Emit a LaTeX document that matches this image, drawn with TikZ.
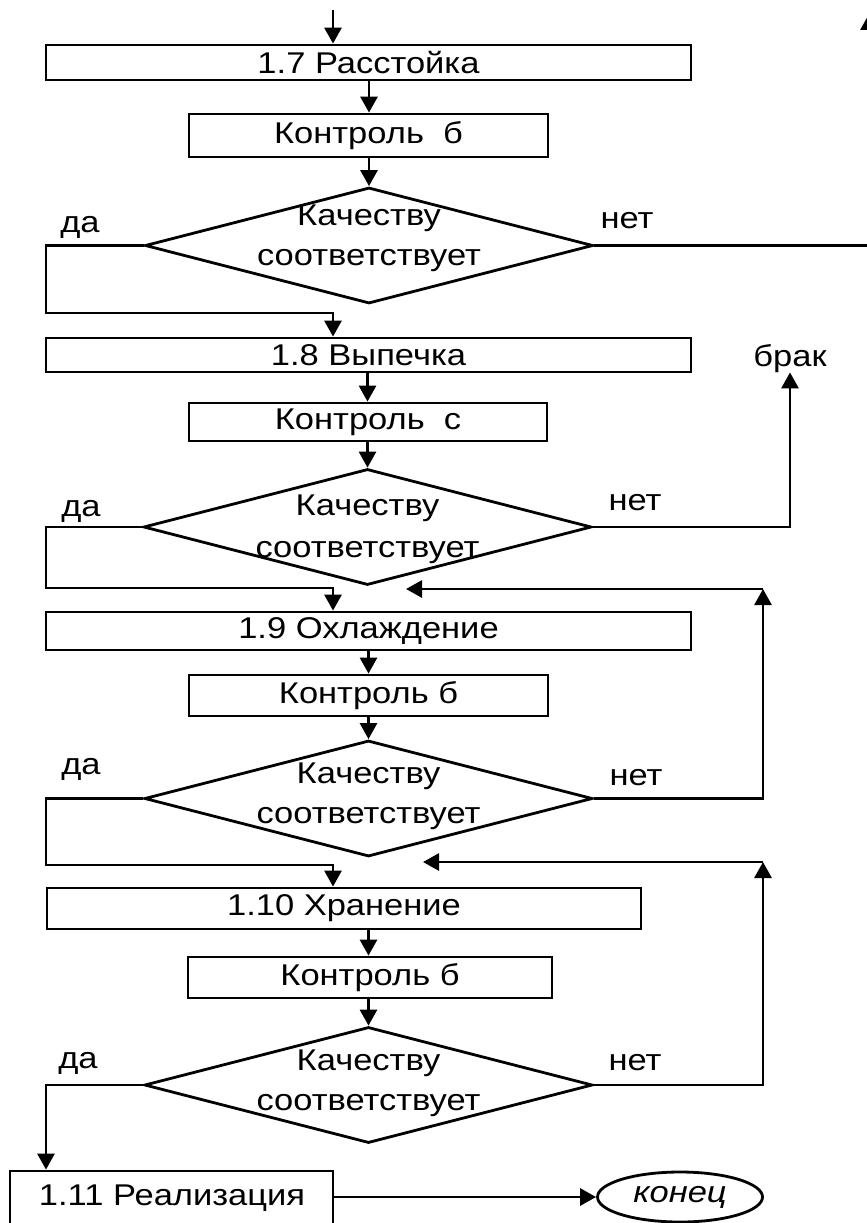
\documentclass[tikz,border=0pt]{standalone}
\usepackage{fontspec}
\setmainfont{Liberation Sans}[FakeStretch=1.15]
\usetikzlibrary{arrows.meta,shapes.geometric}
\begin{document}
\begin{tikzpicture}[x=1pt,y=-1pt,
  every node/.style={font=\fontsize{30}{36}\selectfont},
  line/.style={line width=2.8pt},
  arr/.style={line width=2.8pt,-{Triangle[length=16pt,width=17pt]}},
  stepbox/.style={draw,line width=2.8pt,rectangle,inner sep=0pt},
  decision/.style={draw,line width=2.8pt,diamond,inner sep=0pt,
                   minimum width=448pt,minimum height=116pt},
  lbl/.style={anchor=base,inner sep=0pt}
]
\useasboundingbox (0,0) rectangle (867,1223);

% process steps
\node[stepbox,minimum width=645pt,minimum height=35pt] (b1) at (368.5,62.5) {1.7 Расстойка};
\node[stepbox,minimum width=359pt,minimum height=43pt] (b2) at (368.5,135.5) {Контроль\ \ б};
\node[decision] (d1) at (369,245.5) {};
\node[stepbox,minimum width=645pt,minimum height=34pt] (b3) at (368.5,355) {1.8 Выпечка};
\node[stepbox,minimum width=358pt,minimum height=38pt] (b4) at (368,422) {Контроль\ \ с};
\node[decision] (d2) at (367.5,527) {};
\node[stepbox,minimum width=645pt,minimum height=38pt] (b5) at (368.5,631) {1.9 Охлаждение};
\node[stepbox,minimum width=359pt,minimum height=41pt] (b6) at (368.5,695.5) {Контроль б};
\node[decision] (d3) at (368.5,798.5) {};
\node[stepbox,minimum width=594pt,minimum height=41pt] (b7) at (344,908.5) {1.10 Хранение};
\node[stepbox,minimum width=364pt,minimum height=41pt] (b8) at (370,977.5) {Контроль б};
\node[decision] (d4) at (368.5,1085) {};
\node[stepbox,minimum width=323pt,minimum height=61pt] (b9) at (171.5,1201.5) {};
\node[inner sep=0pt] (b9t) at (172,1198) {1.11 Реализация};
\node[draw,line width=2.8pt,ellipse,inner sep=0pt,minimum width=165pt,minimum height=50pt,
      font=\fontsize{30}{36}\selectfont\itshape] (end) at (680,1197) {конец};

% decision texts
\node[lbl] (q1a) at (369,225) {Качеству};
\node[lbl] (q1b) at (369,265) {соответствует};
\node[lbl] (q2a) at (367.5,515) {Качеству};
\node[lbl] (q2b) at (367.5,557) {соответствует};
\node[lbl] (q3a) at (368.5,783) {Качеству};
\node[lbl] (q3b) at (368.5,823) {соответствует};
\node[lbl] (q4a) at (368.5,1070) {Качеству};
\node[lbl] (q4b) at (368.5,1110) {соответствует};

% yes / no labels
\node[lbl] (y1l) at (80,232) {да};
\node[lbl] (n1l) at (627,228) {нет};
\node[lbl] (y2l) at (81,516) {да};
\node[lbl] (n2l) at (635,510) {нет};
\node[lbl] (y3l) at (81,774) {да};
\node[lbl] (n3l) at (636,785) {нет};
\node[lbl] (y4l) at (78,1068) {да};
\node[lbl] (n4l) at (635,1070) {нет};
\node[lbl] (brak) at (790,366) {брак};

% helper points
\coordinate (in) at (333,10);
\coordinate (lft) at (46,0);
\coordinate (y1) at (46,313);
\coordinate (y2) at (46,588);
\coordinate (y3) at (46,865);
\coordinate (up1) at (869,14);
\coordinate (r1) at (763,589);
\coordinate (r1tip) at (406,589);
\coordinate (r2) at (763,862);
\coordinate (r2tip) at (423,862);

% main flow
\draw[arr] (in) -- (in |- b1.north);
\draw[arr] (b1.south -| d1.north) -- (b2.north -| d1.north);
\draw[arr] (b2.south -| d1.north) -- (d1.north);
\draw[arr] (b3.south -| d2.north) -- (b4.north -| d2.north);
\draw[arr] (b4.south -| d2.north) -- (d2.north);
\draw[arr] (b5.south -| d3.north) -- (b6.north -| d3.north);
\draw[arr] (b6.south -| d3.north) -- (d3.north);
\draw[arr] (b7.south -| d4.north) -- (b8.north -| d4.north);
\draw[arr] (b8.south -| d4.north) -- (d4.north);

% "yes" branches
\draw[arr] (d1.west) -| (y1) -| (in |- b3.north);
\draw[arr] (d2.west) -| (y2) -| (in |- b5.north);
\draw[arr] (d3.west) -| (y3) -| (in |- b7.north);
\draw[arr] (d4.west) -| (lft |- b9.north);
\draw[arr] (b9.east |- end.west) -- (end.west);

% "no" branches
\draw[arr] (d1.east) -| (up1);
\draw[arr] (d2.east) -| (brak.south);
\draw[arr] (d3.east) -| (r1);
\draw[arr] (r1) -- (r1tip);
\draw[arr] (d4.east) -| (r2);
\draw[arr] (r2) -- (r2tip);
\end{tikzpicture}
\end{document}
